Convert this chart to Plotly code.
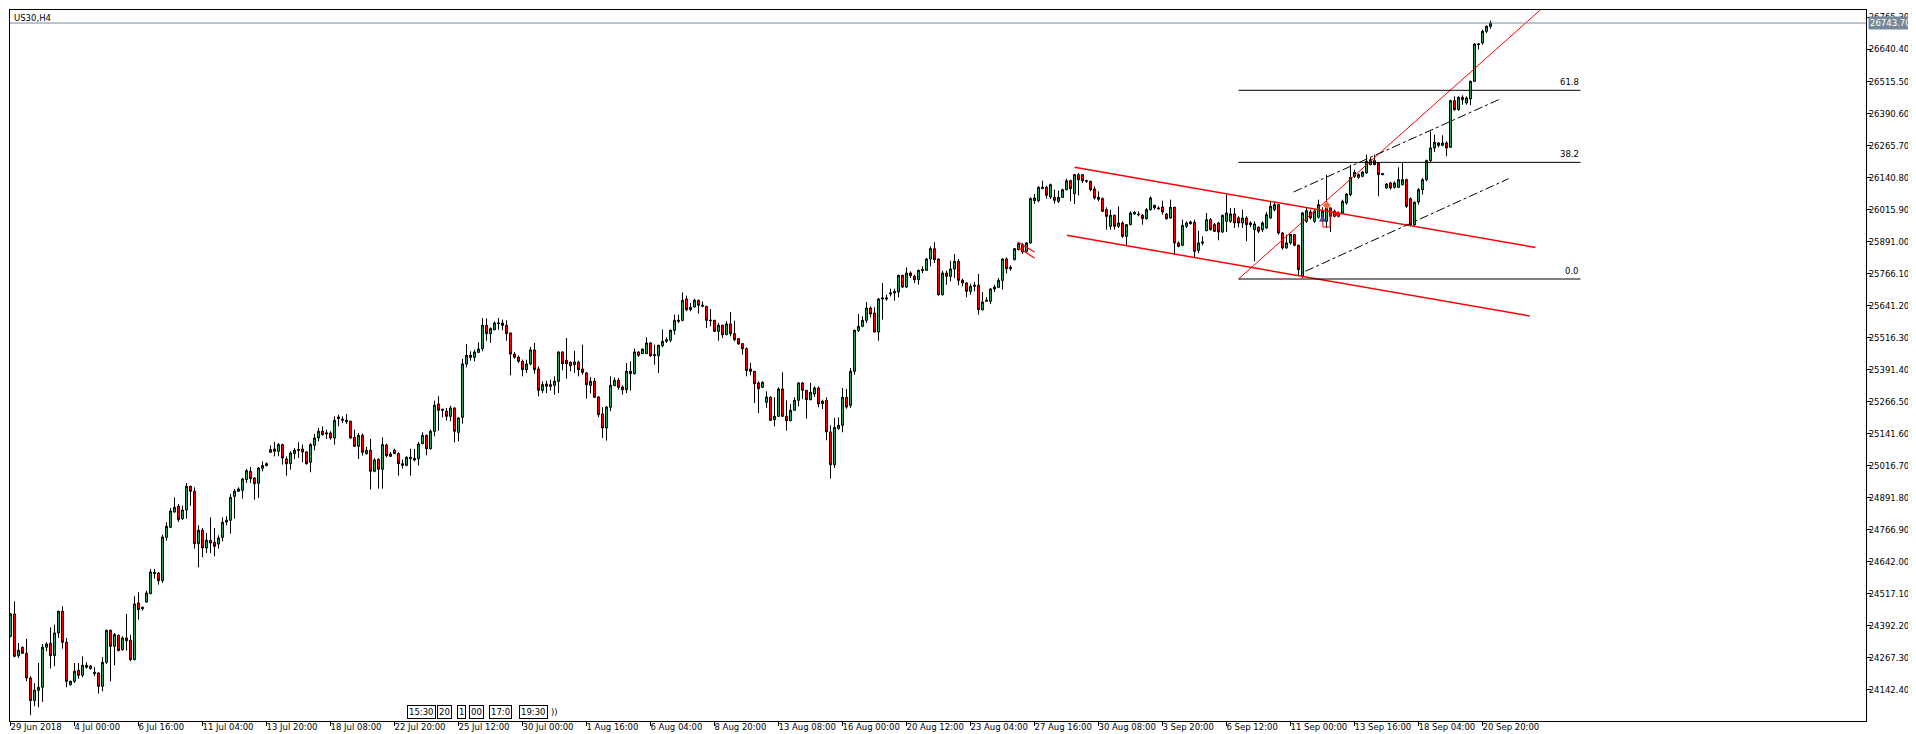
import plotly.graph_objects as go

# ---------------- DATA ----------------
opens = [
24351.5,24438.6,24276.1,24308.6,24285.2,24189.0,24100.6,24140.9,24152.6,24308.6,
24324.2,24276.1,24364.5,24449.0,24328.1,24163.0,24176.0,24218.9,24199.4,24238.4,
24225.4,24211.1,24208.5,24156.5,24250.1,24374.9,24312.5,24355.4,24299.5,24345.0,
24335.9,24260.5,24481.5,24459.4,24485.4,24517.9,24595.9,24598.5,24568.6,24737.6,
24776.6,24836.4,24858.5,24810.4,24844.2,24936.5,24917.0,24712.9,24764.9,24696.0,
24725.9,24718.1,24711.6,24737.6,24797.4,24803.9,24897.5,24917.0,24920.9,24962.5,
24995.0,24969.0,24948.3,25006.8,25017.2,25069.2,25082.2,25073.1,25099.1,25043.2,
25025.0,25064.0,25077.0,25082.2,25070.5,25030.2,25096.5,25125.1,25151.1,25140.7,
25144.6,25125.1,25200.5,25194.0,25194.0,25190.1,25127.7,25092.6,25135.5,25064.0,
25077.0,24995.1,25041.9,25002.9,25097.8,25062.7,25077.0,25064.0,25025.0,25018.5,
25044.5,25045.8,25044.5,25103.0,25135.5,25083.5,25151.1,25257.7,25233.0,25229.1,
25209.6,25242.1,25147.2,25205.7,25413.7,25447.5,25439.7,25459.2,25473.5,25564.5,
25532.0,25547.6,25571.0,25573.6,25564.5,25534.6,25452.7,25439.7,25424.1,25391.6,
25413.7,25468.3,25394.2,25311.0,25335.7,25333.1,25330.5,25346.1,25460.5,25428.0,
25420.2,25411.1,25420.2,25394.2,25378.6,25330.5,25346.1,25285.0,25218.7,25164.1,
25244.7,25329.2,25350.0,25324.0,25313.6,25385.1,25376.0,25460.5,25454.0,25454.0,
25495.6,25446.2,25446.2,25485.2,25502.1,25506.0,25545.0,25580.1,25584.0,25667.2,
25625.6,25636.0,25662.0,25638.6,25638.6,25585.3,25584.0,25541.1,25564.5,25528.1,
25569.7,25532.0,25512.5,25493.0,25473.5,25394.2,25385.1,25339.6,25322.7,25264.2,
25283.7,25196.6,25209.6,25316.2,25209.6,25192.7,25233.0,25272.0,25339.6,25311.0,
25274.6,25296.7,25320.1,25259.0,25272.0,25148.5,25021.1,25161.5,25174.5,25283.7,
25252.5,25385.1,25543.7,25560.6,25584.0,25632.1,25612.6,25538.5,25667.2,25667.2,
25686.7,25690.6,25694.5,25759.5,25714.0,25768.6,25755.6,25742.6,25777.7,25779.0,
25823.2,25863.5,25823.2,25684.1,25768.6,25755.6,25784.2,25814.1,25740.0,25729.6,
25697.1,25716.6,25720.5,25625.6,25658.1,25658.1,25706.2,25712.7,25740.0,25823.2,
25785.5,25820.7,25859.7,25879.2,25853.2,25885.7,26050.8,26050.8,26097.6,26102.8,
26065.1,26063.8,26048.2,26063.8,26093.7,26128.8,26078.1,26152.2,26152.2,26128.8,
26126.2,26096.3,26063.8,26058.6,26015.7,25950.7,25993.6,25950.7,25963.7,25911.7,
25957.2,25998.8,25998.8,25993.6,25980.6,26015.7,26032.6,26022.2,26026.1,25998.8,
25983.2,26024.8,25885.7,25876.6,25950.7,25961.1,25966.3,25857.1,25889.6,25933.8,
25976.8,25957.3,25963.8,25928.7,25970.3,25970.3,25998.9,25983.3,25963.8,25983.3,
25963.8,25937.8,25946.9,25937.8,25944.3,25983.3,26015.8,26035.3,25924.8,25866.3,
25885.8,25918.3,25876.7,25755.8,25970.3,26006.7,25970.3,25985.9,25976.8,25970.3,
26022.3,25989.8,25989.8,26002.8,26041.8,26074.3,26145.8,26141.9,26145.8,26158.8,
26191.3,26206.9,26197.8,26152.3,26100.3,26119.8,26102.9,26102.9,26113.3,26132.8,
26058.7,25957.3,26045.7,26093.8,26132.8,26206.9,26256.3,26275.8,26266.7,26275.8,
26258.9,26440.9,26405.8,26453.9,26431.8,26447.4,26516.3,26659.3,26665.8,26711.3,
26730.8]

highs = [
24442.5,24488.0,24325.5,24311.2,24341.1,24195.5,24168.2,24247.5,24321.6,24328.1,
24386.6,24397.0,24451.6,24468.5,24345.0,24178.6,24247.5,24247.5,24273.5,24250.1,
24238.4,24230.6,24211.1,24269.6,24377.5,24377.5,24364.5,24358.0,24351.5,24438.6,
24358.0,24507.5,24523.1,24467.2,24529.6,24614.1,24614.1,24602.4,24748.0,24796.1,
24852.0,24893.6,24867.6,24860.9,24949.5,24939.1,24932.6,24784.4,24774.0,24754.5,
24815.6,24774.0,24745.4,24815.6,24819.5,24906.6,24926.1,24932.6,24969.0,25004.1,
25011.9,24972.9,25010.7,25034.1,25030.2,25096.5,25109.5,25105.6,25103.0,25053.6,
25073.1,25086.1,25108.2,25099.1,25073.1,25105.6,25140.7,25164.1,25170.6,25157.6,
25151.1,25209.6,25216.1,25209.6,25218.7,25192.7,25157.6,25144.6,25142.0,25090.0,
25121.2,25047.1,25045.8,25127.7,25103.0,25070.5,25083.5,25069.2,25040.6,25053.6,
25083.5,25082.2,25109.5,25147.2,25138.1,25157.6,25270.7,25287.6,25238.2,25242.1,
25251.2,25244.7,25205.7,25433.2,25491.7,25463.1,25469.6,25498.2,25593.1,25590.5,
25556.7,25580.1,25593.1,25586.6,25584.0,25536.0,25460.5,25447.5,25430.6,25430.6,
25480.0,25495.6,25404.6,25346.1,25348.7,25352.6,25365.6,25463.1,25463.1,25515.1,
25424.1,25465.7,25426.7,25489.1,25382.5,25363.0,25359.1,25287.6,25244.7,25248.6,
25365.6,25361.7,25359.1,25330.5,25417.6,25424.1,25473.5,25463.1,25473.5,25517.7,
25498.2,25489.1,25489.1,25547.6,25517.7,25547.6,25606.1,25606.1,25693.2,25680.2,
25651.6,25668.5,25664.6,25658.1,25640.0,25628.2,25586.0,25573.6,25567.1,25580.1,
25616.5,25582.7,25515.1,25495.6,25478.7,25417.6,25386.0,25346.1,25346.1,25307.1,
25287.6,25283.7,25322.7,25381.2,25272.0,25257.7,25283.7,25342.2,25343.5,25312.3,
25339.6,25326.6,25326.6,25274.6,25283.7,25174.5,25203.1,25205.7,25320.1,25316.2,
25398.1,25547.6,25608.7,25599.6,25655.5,25638.6,25634.7,25671.1,25729.6,25684.1,
25707.5,25707.5,25762.1,25762.1,25790.7,25775.1,25762.1,25781.6,25794.6,25827.1,
25872.6,25888.2,25824.5,25777.7,25777.7,25816.7,25842.7,25823.2,25746.5,25733.5,
25727.0,25733.5,25764.7,25694.5,25675.0,25710.1,25723.1,25749.1,25827.1,25829.7,
25798.5,25866.2,25889.6,25885.7,25889.6,26063.8,26076.8,26106.7,26128.8,26109.3,
26117.1,26093.7,26089.8,26097.6,26136.6,26132.7,26154.8,26158.7,26154.8,26132.7,
26128.8,26106.7,26087.2,26063.8,26024.8,26015.7,25996.2,26028.7,25970.2,25959.8,
26009.2,26009.2,26009.2,25998.8,26022.2,26067.7,26035.2,26028.7,26050.8,26002.7,
26054.7,26027.4,25892.2,25976.7,25970.2,25972.8,25976.7,25933.8,25911.7,26002.7,
25983.3,25963.8,25967.7,25996.3,26074.3,26022.3,26022.3,25989.8,26015.8,25989.8,
25970.3,25970.3,25950.8,25970.3,26006.7,26048.3,26044.4,26037.9,25928.7,25918.3,
25920.9,25920.9,25879.3,26006.7,26022.3,26015.8,26015.8,26054.8,26024.9,26152.3,
26024.9,26015.8,26006.7,26054.8,26080.8,26191.3,26171.8,26156.2,26165.3,26230.3,
26217.3,26230.3,26201.7,26158.8,26119.8,26123.7,26126.3,26180.9,26197.8,26136.7,
26063.9,26048.3,26100.3,26139.3,26210.8,26321.3,26308.3,26279.7,26305.7,26282.3,
26444.8,26457.8,26457.8,26461.7,26457.8,26518.9,26665.8,26665.8,26717.8,26734.7,
26752.9]

lows = [
24347.6,24269.6,24267.0,24282.6,24176.0,24043.4,24078.5,24074.6,24095.4,24293.0,
24225.4,24234.5,24345.0,24303.4,24152.6,24159.1,24169.5,24186.4,24191.6,24225.4,
24221.5,24195.5,24127.9,24137.0,24243.6,24176.0,24238.4,24293.0,24295.6,24295.6,
24254.0,24257.9,24416.5,24451.6,24482.8,24515.3,24576.4,24553.0,24559.5,24724.6,
24774.0,24833.8,24797.4,24805.2,24810.4,24860.9,24693.4,24620.6,24659.6,24676.5,
24676.5,24663.5,24693.4,24722.0,24784.4,24751.9,24810.4,24914.4,24888.4,24949.5,
24949.5,24884.5,24891.1,24995.1,25014.6,25066.6,25053.6,25053.6,25021.1,24978.2,
25001.6,25043.2,25047.1,25030.2,25021.1,24991.2,25077.0,25112.1,25134.2,25121.2,
25118.6,25099.1,25170.6,25183.6,25179.7,25122.5,25090.0,25043.2,25056.2,25060.1,
24923.6,24991.2,24927.5,24927.5,25049.7,25051.0,25062.7,24978.2,25005.5,25014.6,
24978.2,25034.1,25017.2,25100.4,25057.5,25079.6,25131.6,25153.7,25205.7,25192.7,
25190.1,25108.2,25112.1,25181.0,25400.7,25426.7,25424.1,25456.6,25463.1,25504.7,
25495.6,25545.0,25547.6,25545.0,25504.7,25369.5,25434.5,25417.6,25365.6,25378.6,
25408.5,25376.0,25287.6,25300.6,25300.6,25309.7,25294.1,25300.6,25389.0,25356.5,
25385.1,25378.6,25365.6,25372.1,25278.5,25298.0,25281.1,25205.7,25125.1,25114.7,
25229.1,25326.6,25313.6,25294.1,25300.6,25309.7,25372.1,25441.0,25452.7,25452.7,
25441.0,25411.1,25378.6,25478.7,25495.6,25498.2,25528.1,25573.6,25580.1,25619.1,
25619.1,25634.7,25610.0,25634.7,25554.1,25560.6,25538.5,25504.7,25515.1,25525.5,
25521.6,25502.1,25489.1,25450.1,25365.6,25369.5,25261.6,25222.6,25320.1,25242.1,
25192.7,25170.6,25207.0,25207.0,25153.7,25190.1,25231.7,25248.6,25277.2,25200.5,
25272.0,25285.0,25244.7,25238.2,25116.0,24966.5,25008.1,25157.6,25147.2,25239.5,
25242.1,25372.1,25538.5,25556.7,25573.6,25595.7,25537.2,25504.7,25586.6,25660.7,
25677.6,25660.7,25673.7,25710.1,25710.1,25749.1,25729.6,25723.1,25768.6,25777.7,
25794.6,25807.6,25680.2,25680.2,25723.1,25736.1,25749.1,25720.5,25716.6,25673.7,
25684.1,25697.1,25606.1,25621.7,25655.5,25647.7,25694.5,25710.1,25703.6,25766.0,
25777.7,25818.1,25857.1,25842.8,25850.6,25883.1,26037.8,26044.3,26096.3,26058.6,
26057.3,26039.1,26041.7,26061.2,26091.1,26048.2,26037.8,26071.6,26119.7,26119.7,
26087.2,26054.7,26048.2,26006.6,25937.7,25937.7,25937.7,25944.2,25905.2,25876.6,
25954.6,25996.2,25989.7,25957.2,25976.7,26011.8,26015.7,26015.7,25996.2,25976.7,
25980.6,25840.2,25868.8,25872.7,25944.2,25957.2,25827.2,25846.7,25876.6,25931.2,
25933.9,25928.7,25896.2,25924.8,25928.7,25963.8,25944.3,25946.9,25944.3,25892.3,
25946.9,25814.3,25924.8,25928.7,25941.7,25980.7,26009.3,25918.3,25859.8,25863.7,
25879.3,25872.8,25758.4,25749.3,25963.8,25976.8,25963.8,25980.7,25970.3,25944.3,
25928.7,25985.9,25985.9,25998.9,26035.3,26067.8,26139.3,26136.7,26141.9,26156.2,
26188.7,26188.7,26067.8,26149.7,26096.4,26093.8,26097.7,26100.3,26109.4,26022.3,
25950.8,25950.8,26035.3,26074.3,26126.3,26201.7,26240.7,26258.9,26262.8,26223.8,
26256.3,26401.9,26401.9,26425.3,26425.3,26422.7,26513.7,26639.8,26659.3,26704.8,
26721.7]

closes = [
24438.6,24273.5,24296.9,24285.2,24189.0,24100.6,24140.9,24152.6,24308.6,24321.6,
24276.1,24364.5,24449.0,24328.1,24176.0,24176.0,24215.0,24199.4,24238.4,24230.6,
24235.8,24205.9,24156.5,24250.1,24374.9,24312.5,24358.0,24295.6,24345.0,24334.6,
24260.5,24477.6,24455.5,24464.6,24520.5,24602.4,24601.1,24568.6,24738.9,24780.5,
24840.3,24854.6,24806.5,24844.2,24936.5,24917.0,24712.9,24764.9,24696.0,24725.9,
24715.5,24702.5,24735.0,24796.1,24803.9,24893.6,24917.0,24926.1,24965.1,24997.6,
24966.4,24946.9,25008.1,25017.2,25025.0,25079.6,25073.1,25099.1,25047.1,25025.0,
25066.6,25077.0,25079.6,25070.5,25025.0,25099.1,25125.1,25151.1,25138.1,25144.6,
25125.1,25194.0,25207.0,25197.9,25188.8,25125.1,25092.6,25135.5,25069.2,25077.0,
24995.1,25039.3,25002.9,25099.1,25056.2,25053.6,25064.0,25025.0,25018.5,25049.7,
25049.7,25039.3,25101.7,25135.5,25083.5,25151.1,25252.5,25233.0,25236.9,25209.6,
25242.1,25151.1,25203.1,25413.7,25447.5,25439.7,25460.5,25472.2,25564.5,25532.0,
25551.5,25573.6,25573.6,25564.5,25532.0,25452.7,25439.7,25424.1,25391.6,25413.7,
25468.3,25391.6,25311.0,25333.1,25326.6,25326.6,25346.1,25460.5,25415.0,25415.0,
25407.2,25421.5,25391.6,25381.2,25333.1,25346.1,25283.7,25216.1,25164.1,25246.0,
25330.5,25350.0,25322.7,25313.6,25385.1,25376.0,25460.5,25447.5,25472.2,25495.6,
25446.2,25450.1,25486.5,25502.1,25508.6,25545.0,25584.0,25584.0,25662.0,25625.6,
25634.7,25662.0,25642.5,25642.5,25584.0,25582.7,25541.1,25564.5,25528.1,25569.7,
25532.0,25508.6,25491.7,25473.5,25387.7,25385.1,25337.0,25317.5,25342.2,25285.0,
25194.0,25209.6,25316.2,25209.6,25192.7,25233.0,25272.0,25339.6,25311.0,25274.6,
25303.2,25320.1,25257.7,25268.1,25148.5,25021.1,25166.7,25174.5,25283.7,25246.0,
25385.1,25545.0,25560.6,25584.0,25632.1,25608.7,25538.5,25667.2,25671.1,25671.1,
25690.6,25697.1,25759.5,25714.0,25768.6,25758.2,25742.6,25779.0,25781.6,25823.2,
25863.5,25820.6,25684.1,25768.6,25755.6,25784.2,25814.1,25740.0,25729.6,25697.1,
25716.6,25720.5,25625.6,25655.5,25662.0,25706.2,25714.0,25740.0,25823.2,25785.5,
25790.7,25863.6,25883.1,25850.6,25885.7,26058.6,26061.2,26102.8,26102.8,26071.6,
26113.2,26052.1,26063.8,26093.7,26128.8,26097.6,26152.2,26132.7,26128.8,26126.2,
26093.7,26061.2,26056.0,26009.2,25989.7,25993.6,25950.7,25963.7,25911.7,25957.2,
26002.7,26005.3,25996.2,25980.6,26015.7,26061.2,26022.2,26019.6,26006.6,25980.6,
26024.8,25885.7,25872.7,25954.6,25963.7,25967.6,25853.2,25885.7,25885.7,25976.7,
25937.8,25931.3,25928.7,25993.7,26002.8,25998.9,25963.8,25963.8,25983.3,25957.3,
25957.3,25959.9,25931.3,25963.8,25996.3,26028.8,26035.3,25924.8,25866.3,25885.8,
25918.3,25876.7,25781.8,26002.8,26011.9,25983.3,26009.3,26035.3,26009.3,26022.3,
25989.8,26009.3,26002.8,26048.3,26076.9,26141.9,26161.4,26152.3,26162.7,26204.3,
26210.8,26191.3,26152.3,26156.2,26115.9,26100.3,26119.8,26132.8,26132.8,26028.8,
25954.7,26044.4,26093.8,26132.8,26206.9,26256.3,26278.4,26266.7,26275.8,26256.3,
26440.9,26405.8,26453.9,26444.8,26451.3,26516.3,26661.9,26661.9,26711.3,26730.8,
26743.7]

bar_index = list(range(len(opens)))

# time labels (one every 16 H4 bars)
time_labels = ["29 Jun 2018", "4 Jul 00:00", "6 Jul 16:00", "11 Jul 04:00", "13 Jul 20:00",
               "18 Jul 08:00", "22 Jul 20:00", "25 Jul 12:00", "30 Jul 00:00", "1 Aug 16:00",
               "6 Aug 04:00", "8 Aug 20:00", "13 Aug 08:00", "16 Aug 00:00", "20 Aug 12:00",
               "23 Aug 04:00", "27 Aug 16:00", "30 Aug 08:00", "3 Sep 20:00", "6 Sep 12:00",
               "11 Sep 00:00", "13 Sep 16:00", "18 Sep 04:00", "20 Sep 20:00"]
BARS_PER_LABEL = 16

price_ticks = [24142.40, 24267.30, 24392.20, 24517.10, 24642.00, 24766.90, 24891.80,
               25016.70, 25141.60, 25266.50, 25391.40, 25516.30, 25641.20, 25766.10,
               25891.00, 26015.90, 26140.80, 26265.70, 26390.60, 26515.50, 26640.40,
               26765.30]

current_price = 26743.70
symbol_title = "US30,H4"

# calendar-event tags at the bottom (bar index, text)
event_bars = [99.0, 106.5, 111.5, 114.5, 119.5, 127.0]
event_texts = ["15:30", "20", "1", "00", "17:0", "19:30"]

# drawn objects: (bar index, price) anchors
channel_upper = ([266.0, 381.25], [26180.9, 25868.1])
channel_lower = ([264.1, 379.8], [25915.7, 25600.9])
steep_line = ([307.0, 384.0], [25745.2, 26816.3])
small_line_a = ([251.8, 256.0], [25889.5, 25850.5])
small_line_b = ([251.8, 256.0], [25868.8, 25827.1])
dash_upper = ([320.75, 372.6], [26084.6, 26448.5])
dash_lower = ([323.7, 374.5], [25775.2, 26136.4])

fib_start_bar, fib_end_bar = 307.0, 392.5
fib_low, fib_high = 25745.2, 26936.2
fib_levels = [0.0, 38.2, 61.8]

GREEN = "#2E9E5B"
RED = "#FF0000"
FONT = "DejaVu Sans"
FS = 8.5

fig = go.Figure()

fig.add_trace(go.Candlestick(
    x=bar_index, open=opens, high=highs, low=lows, close=closes,
    increasing=dict(fillcolor=GREEN, line=dict(color="black", width=1)),
    decreasing=dict(fillcolor=RED, line=dict(color="black", width=1)),
    whiskerwidth=0, hoverinfo="skip", showlegend=False,
))

def add_line(xy, color, width, dash="solid"):
    fig.add_trace(go.Scatter(x=xy[0], y=xy[1], mode="lines",
                             line=dict(color=color, width=width, dash=dash),
                             hoverinfo="skip", showlegend=False))

add_line(channel_upper, RED, 1.5)
add_line(channel_lower, RED, 1.5)
add_line(steep_line, RED, 1)
add_line(small_line_a, RED, 1.2)
add_line(small_line_b, RED, 1.2)
add_line(dash_upper, "black", 1, "dashdot")
add_line(dash_lower, "black", 1, "dashdot")

for lvl in fib_levels:
    p = fib_low + lvl / 100.0 * (fib_high - fib_low)
    fig.add_trace(go.Scatter(x=[fib_start_bar, fib_end_bar], y=[p, p], mode="lines",
                             line=dict(color="black", width=1), hoverinfo="skip",
                             showlegend=False))
    fig.add_annotation(x=fib_end_bar, y=p, xref="x", yref="y", text=f"{lvl:.1f}",
                       showarrow=False, xanchor="right", yanchor="bottom",
                       font=dict(family=FONT, size=FS, color="black"), yshift=1)

# small trade markers
fig.add_trace(go.Scatter(x=[328.0], y=[25996.0], mode="markers",
                         marker=dict(symbol="arrow-up", size=7, color="#1E5FBF"),
                         hoverinfo="skip", showlegend=False))
fig.add_trace(go.Scatter(x=[329.1], y=[26032.7], mode="markers",
                         marker=dict(symbol="diamond", size=6, color="#F06A3A"),
                         hoverinfo="skip", showlegend=False))
fig.add_trace(go.Scatter(x=[328.1, 328.1, 329.9, 329.9], y=[25983.1, 25948.0, 25948.0, 26009.3],
                         mode="lines", line=dict(color=RED, width=1),
                         hoverinfo="skip", showlegend=False))
fig.add_trace(go.Scatter(x=[330.6], y=[25998.7], mode="markers",
                         marker=dict(symbol="arrow-left", size=6, color=RED),
                         hoverinfo="skip", showlegend=False))

# event tags along the bottom edge
for xb, txt in zip(event_bars, event_texts):
    fig.add_annotation(x=xb, xref="x", y=0.003, yref="paper", text=txt, showarrow=False,
                       xanchor="left", yanchor="bottom", bordercolor="black", borderwidth=1,
                       borderpad=1, bgcolor="white",
                       font=dict(family=FONT, size=FS, color="black"))
fig.add_annotation(x=134.5, xref="x", y=0.003, yref="paper", text="))", showarrow=False,
                   xanchor="left", yanchor="bottom", borderpad=1,
                   font=dict(family=FONT, size=FS, color="black"))

# current price line and label
fig.add_shape(type="line", xref="paper", x0=0, x1=1, yref="y", y0=current_price, y1=current_price,
              line=dict(color="#778899", width=1))
fig.add_annotation(xref="paper", x=1, yref="y", y=current_price, text=f"{current_price:.2f}",
                   showarrow=False, xanchor="left", yanchor="middle", xshift=2,
                   bgcolor="#778899", borderpad=1,
                   font=dict(family=FONT, size=FS, color="white"))

fig.add_annotation(xref="paper", yref="paper", x=0, y=1, text=symbol_title, showarrow=False,
                   xanchor="left", yanchor="top", xshift=2, yshift=-1,
                   font=dict(family=FONT, size=FS, color="black"))

fig.update_layout(
    width=1916, height=734,
    margin=dict(l=2, r=58, t=2, b=21),
    paper_bgcolor="white", plot_bgcolor="white",
    showlegend=False,
    font=dict(family=FONT, size=FS, color="black"),
    boxgap=0.2929, boxgroupgap=0.2929,
    xaxis=dict(
        range=[-0.125, 463.875], rangeslider=dict(visible=False), showgrid=False, zeroline=False,
        tickmode="array", tickvals=[BARS_PER_LABEL * k for k in range(len(time_labels))],
        ticktext=time_labels, ticks="outside", ticklen=4, tickcolor="black",
        ticklabelposition="outside right", tickangle=0, ticklabelshift=-1,
        ticklabelstandoff=-2, ticklabeloverflow="allow",
        showline=True, linecolor="black", linewidth=1, mirror=True,
        tickfont=dict(family=FONT, size=FS, color="black"),
    ),
    yaxis=dict(
        range=[24021.1, 26794.5], side="right", showgrid=False, zeroline=False,
        tickmode="array", tickvals=price_ticks, ticktext=[f"{v:.2f}" for v in price_ticks],
        ticks="outside", ticklen=4, tickcolor="black", ticklabelstandoff=-4,
        showline=True, linecolor="black", linewidth=1, mirror=True,
        tickfont=dict(family=FONT, size=FS, color="black"),
    ),
)

fig.write_html("out.html")
